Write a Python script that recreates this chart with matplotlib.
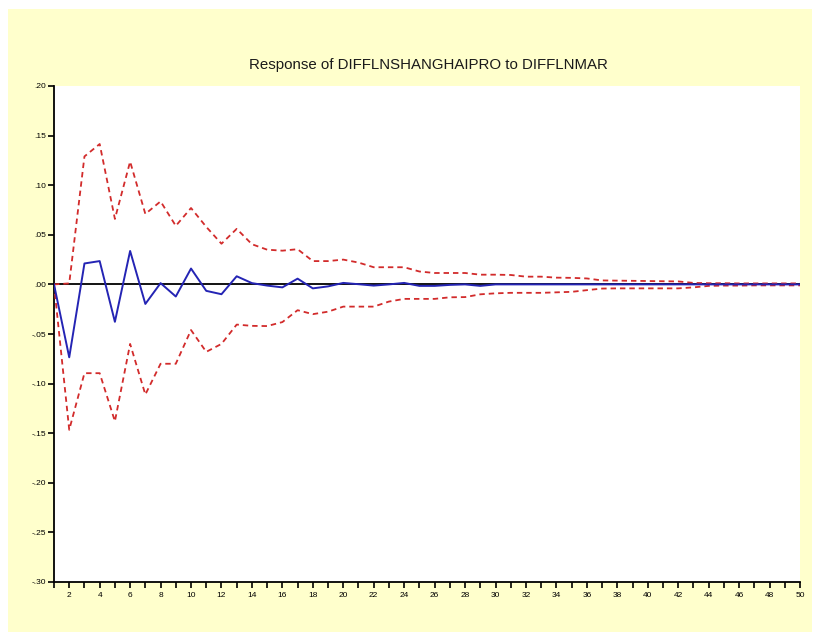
import matplotlib
matplotlib.use("Agg")
import matplotlib.pyplot as plt
from matplotlib.patches import Rectangle
import numpy as np

periods = list(range(1, 51))

response = [0.0, -0.0735, 0.0211, 0.0235, -0.0377, 0.0337, -0.0197, 0.0013, -0.0122, 0.0160,
            -0.0065, -0.0099, 0.0082, 0.0013, -0.0012, -0.0030, 0.0058, -0.0040, -0.0020, 0.0015,
            0.0002, -0.0012, 0.0000, 0.0015, -0.0015, -0.0015, -0.0005, 0.0000, -0.0015, 0.0000,
            0.0000, 0.0000, 0.0000, 0.0000, 0.0000, 0.0000, 0.0000, 0.0000, 0.0000, 0.0000,
            0.0000, 0.0000, 0.0000, 0.0000, 0.0000, 0.0000, 0.0000, 0.0000, 0.0000, 0.0000]

upper = [0.0, 0.0010, 0.1290, 0.1415, 0.0660, 0.1238, 0.0710, 0.0837, 0.0590, 0.0770,
         0.0580, 0.0410, 0.0560, 0.0405, 0.0350, 0.0340, 0.0355, 0.0235, 0.0235, 0.0250,
         0.0220, 0.0173, 0.0173, 0.0173, 0.0130, 0.0115, 0.0115, 0.0115, 0.0098, 0.0098,
         0.0095, 0.0078, 0.0078, 0.0068, 0.0066, 0.0060, 0.0040, 0.0038, 0.0036, 0.0034,
         0.0032, 0.0030, 0.0015, 0.0012, 0.0012, 0.0010, 0.0010, 0.0010, 0.0010, 0.0010]

lower = [0.0, -0.1466, -0.0895, -0.0895, -0.1380, -0.0600, -0.1110, -0.0800, -0.0800, -0.0460,
         -0.0680, -0.0600, -0.0405, -0.0418, -0.0420, -0.0380, -0.0260, -0.0300, -0.0275, -0.0224,
         -0.0224, -0.0224, -0.0173, -0.0146, -0.0146, -0.0146, -0.0130, -0.0128, -0.0100, -0.0090,
         -0.0085, -0.0085, -0.0085, -0.0080, -0.0075, -0.0058, -0.0042, -0.0040, -0.0040, -0.0040,
         -0.0040, -0.0040, -0.0030, -0.0015, -0.0012, -0.0012, -0.0010, -0.0010, -0.0010, -0.0010]

yticks = [0.20, 0.15, 0.10, 0.05, 0.00, -0.05, -0.10, -0.15, -0.20, -0.25, -0.30]
ytick_labels = [".20", ".15", ".10", ".05", ".00", "-.05", "-.10", "-.15", "-.20", "-.25", "-.30"]
title = "Response of DIFFLNSHANGHAIPRO to DIFFLNMAR"

W, H = 819, 637
fig = plt.figure(figsize=(W / 100, H / 100), dpi=100)
fig.patch.set_facecolor("white")
fig.patches.append(Rectangle((8 / W, 1 - 632 / H), (812 - 8) / W, (632 - 9) / H,
                             transform=fig.transFigure, facecolor="#FFFFCC",
                             edgecolor="none", zorder=-10))

ax = fig.add_axes([54 / W, 1 - 582 / H, (800 - 54) / W, (582 - 86) / H])
ax.set_facecolor("white")

ax.axhline(0, color="black", lw=1.3, zorder=2)
ax.plot(periods, upper, color="#D22B2B", lw=1.3, ls=(0, (3, 2.2)), zorder=3)
ax.plot(periods, lower, color="#D22B2B", lw=1.3, ls=(0, (3, 2.2)), zorder=3)
ax.plot(periods, response, color="#2424B4", lw=1.4, zorder=4)

ax.set_xlim(1, 50)
ax.set_ylim(-0.30, 0.20)

ax.set_yticks(yticks)
ax.set_yticklabels(ytick_labels)
ax.set_xticks(periods)
ax.set_xticklabels([str(p) if p % 2 == 0 else "" for p in periods])

for s in ["top", "right"]:
    ax.spines[s].set_visible(False)
for s in ["left", "bottom"]:
    ax.spines[s].set_linewidth(1.3)
    ax.spines[s].set_color("black")

ax.tick_params(axis="both", direction="out", length=4, width=1.2, labelsize=6,
               colors="black")
ax.tick_params(axis="x", pad=3.5)
ax.tick_params(axis="y", pad=1.5)
for lab in ax.get_xticklabels() + ax.get_yticklabels():
    lab.set_fontfamily("Liberation Sans")

fig.text(428 / W, 1 - 65 / H, title, ha="center", va="center",
         fontsize=10.8, family="Liberation Sans", color="#1a1a1a")

fig.savefig("out.png", dpi=100, facecolor=fig.get_facecolor())
